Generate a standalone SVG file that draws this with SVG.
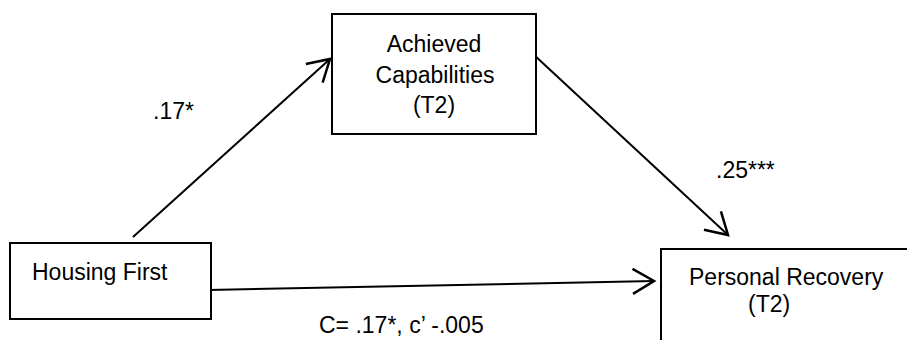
<svg xmlns="http://www.w3.org/2000/svg" width="907" height="340" viewBox="0 0 907 340">
<defs>
<style>
.box{fill:#fff;stroke:#000;stroke-width:2}
.t{font-family:"Liberation Sans",Arial,sans-serif;font-size:23px;fill:#000}
.c{text-anchor:middle}
.edge{fill:none;stroke:#000;stroke-width:2;marker-end:url(#arr)}
</style>
<marker id="arr" markerUnits="userSpaceOnUse" markerWidth="30" markerHeight="30" viewBox="-20 -12 22 24" refX="0" refY="0" orient="auto">
<path d="M-17,-10 L0,0 L-17,10" fill="none" stroke="#000" stroke-width="2"/>
</marker>
</defs>
<rect width="907" height="340" fill="#fff"/>
<g id="connectors">
<line class="edge" x1="133" y1="237" x2="330" y2="59"/>
<line class="edge" x1="533" y1="54" x2="728" y2="235"/>
<line class="edge" x1="208" y1="290" x2="654" y2="281"/>
<text class="t" x="153" y="119">.17*</text>
<text class="t" x="716" y="178">.25***</text>
<text class="t" x="319" y="333">C= .17*, c’ -.005</text>
</g>
<g id="housing-first">
<rect class="box" x="10" y="243" width="201" height="76"/>
<text class="t" x="32" y="280">Housing First</text>
</g>
<g id="achieved-capabilities">
<rect class="box" x="332" y="14" width="204" height="120"/>
<text class="t c" x="434" y="52">Achieved</text>
<text class="t c" x="435" y="83">Capabilities</text>
<text class="t c" x="434" y="113">(T2)</text>
</g>
<g id="personal-recovery">
<rect class="box" x="661" y="249" width="260" height="110"/>
<text class="t" x="689" y="285">Personal Recovery</text>
<text class="t" x="748" y="312">(T2)</text>
</g>
</svg>
